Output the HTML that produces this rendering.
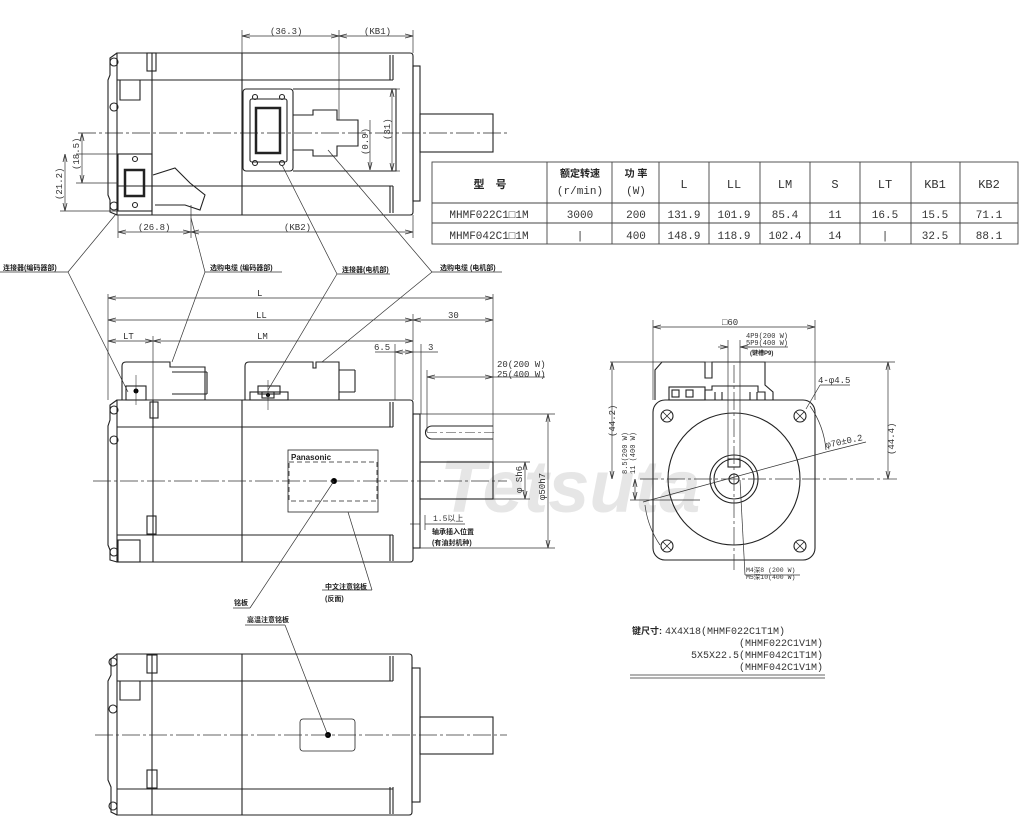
<!DOCTYPE html>
<html><head><meta charset="utf-8"><style>
html,body{margin:0;padding:0;background:#fff;}
svg{display:block;}
text{font-family:"Liberation Mono","Noto Sans CJK SC",monospace;fill:#333;}
.c{font-family:"Liberation Sans","Noto Sans CJK SC",sans-serif;font-weight:bold;fill:#222;}
</style></head><body>
<svg width="1024" height="823" viewBox="0 0 1024 823" xmlns="http://www.w3.org/2000/svg">
<defs>
<marker id="a" markerWidth="8" markerHeight="6" refX="8" refY="3" orient="auto-start-reverse" markerUnits="userSpaceOnUse"><path d="M0,1 L8,3 L0,5" fill="none" stroke="#333" stroke-width="0.8"/></marker>
</defs>
<rect width="1024" height="823" fill="#fff"/>
<text x="440" y="512" style="font-family:'Liberation Sans',sans-serif;font-weight:bold;font-style:italic;font-size:74px;fill:#e6e6e6">Tetsuta</text>

<g fill="none" stroke="#222" stroke-width="1.1">
<path d="M117,53 H410 Q413,53 413,56 V212 Q413,215 410,215 H117 Z"/>
<path d="M117,53 L110,58 V75 L108,80 V195 L110,200 V212 L117,215"/>
<line x1="117" y1="80" x2="393" y2="80"/><line x1="117" y1="186" x2="393" y2="186"/>
<line x1="393" y1="55" x2="393" y2="80"/><line x1="390" y1="55" x2="390" y2="80"/>
<line x1="393" y1="186" x2="393" y2="213"/><line x1="390" y1="186" x2="390" y2="213"/>
<line x1="152" y1="53" x2="152" y2="215"/><line x1="242" y1="53" x2="242" y2="215"/>
<rect x="147" y="53" width="9" height="18"/>
<path d="M120,80 V100 H140 V80"/><circle cx="114" cy="62" r="4"/><circle cx="114" cy="107" r="4"/><circle cx="114" cy="206" r="4"/>
<rect x="413" y="66" width="7" height="135"/>
<rect x="420" y="114" width="73" height="38"/>
<rect x="243" y="89" width="50" height="82" rx="3"/>
<rect x="250" y="99" width="37" height="63" rx="2"/>
<rect x="256" y="108" width="24" height="45" stroke-width="2.5"/>
<path d="M293,115 H313 V110 H337 V120 H358 V146 H337 V156 H313 V150 H293"/>
<path d="M293,89 H396 V171 H293"/>
<circle cx="255" cy="97" r="2.5"/><circle cx="282" cy="97" r="2.5"/><circle cx="255" cy="163" r="2.5"/><circle cx="282" cy="163" r="2.5"/>
<rect x="118" y="154" width="34" height="57"/>
<rect x="125" y="170" width="19" height="26" stroke-width="2.5"/>
<circle cx="135" cy="159" r="2.5"/><circle cx="135" cy="205" r="2.5"/>
<path d="M153,175 L175,168 L190,183 L205,195 L200,210 L185,205 L155,205"/>
<line x1="78" y1="133" x2="507" y2="133" stroke-width="0.7" stroke-dasharray="18,3,3,3"/>
</g>

<g stroke="#333" stroke-width="0.7" fill="none">
<line x1="242" y1="30" x2="242" y2="53"/><line x1="339" y1="30" x2="339" y2="120"/><line x1="413" y1="30" x2="413" y2="53"/>
<line x1="242" y1="36" x2="339" y2="36" marker-start="url(#a)" marker-end="url(#a)"/>
<line x1="339" y1="36" x2="413" y2="36" marker-start="url(#a)" marker-end="url(#a)"/>
<line x1="118" y1="215" x2="118" y2="238"/><line x1="191" y1="205" x2="191" y2="238"/><line x1="413" y1="215" x2="413" y2="238"/>
<line x1="118" y1="232" x2="191" y2="232" marker-start="url(#a)" marker-end="url(#a)"/>
<line x1="191" y1="232" x2="413" y2="232" marker-start="url(#a)" marker-end="url(#a)"/>
<line x1="76" y1="154" x2="118" y2="154"/><line x1="76" y1="183" x2="118" y2="183"/><line x1="60" y1="211" x2="118" y2="211"/>
<line x1="82" y1="133" x2="82" y2="183" marker-start="url(#a)" marker-end="url(#a)"/>
<line x1="65" y1="154" x2="65" y2="211" marker-start="url(#a)" marker-end="url(#a)"/>
<line x1="396" y1="89" x2="400" y2="89"/><line x1="396" y1="171" x2="400" y2="171"/>
<line x1="392" y1="89" x2="392" y2="171" marker-start="url(#a)" marker-end="url(#a)"/>
<line x1="370" y1="120" x2="370" y2="170" marker-end="url(#a)"/>
</g>
<g font-size="9">
<text x="270" y="34">(36.3)</text><text x="364" y="34">(KB1)</text>
<text x="138" y="230">(26.8)</text><text x="284" y="230">(KB2)</text>
<text transform="translate(79,170) rotate(-90)">(18.5)</text>
<text transform="translate(62,200) rotate(-90)">(21.2)</text>
<text transform="translate(390,140) rotate(-90)">(31)</text>
<text transform="translate(368,155) rotate(-90)">(0.9)</text>
</g>

<g stroke="#444" stroke-width="0.9" fill="none">
<rect x="432" y="162" width="586" height="82"/>
<line x1="432" y1="203" x2="1018" y2="203"/><line x1="432" y1="223" x2="1018" y2="223"/>
<line x1="547" y1="162" x2="547" y2="244"/><line x1="612" y1="162" x2="612" y2="244"/><line x1="659" y1="162" x2="659" y2="244"/>
<line x1="709" y1="162" x2="709" y2="244"/><line x1="760" y1="162" x2="760" y2="244"/><line x1="810" y1="162" x2="810" y2="244"/>
<line x1="860" y1="162" x2="860" y2="244"/><line x1="911" y1="162" x2="911" y2="244"/><line x1="960" y1="162" x2="960" y2="244"/>
</g>
<g font-size="12" text-anchor="middle">
<text class="c" x="490" y="188" font-size="11">型　号</text>
<text class="c" x="580" y="177" font-size="10">额定转速</text><text x="580" y="194" font-size="11">(r/min)</text>
<text class="c" x="636" y="177" font-size="10">功 率</text><text x="636" y="194" font-size="11">(W)</text>
<text x="684" y="188">L</text><text x="734" y="188">LL</text><text x="785" y="188">LM</text><text x="835" y="188">S</text>
<text x="885" y="188">LT</text><text x="935" y="188">KB1</text><text x="989" y="188">KB2</text>
<g font-size="11">
<text x="489" y="218">MHMF022C1□1M</text><text x="580" y="218">3000</text><text x="636" y="218">200</text>
<text x="684" y="218">131.9</text><text x="734" y="218">101.9</text><text x="785" y="218">85.4</text><text x="835" y="218">11</text>
<text x="885" y="218">16.5</text><text x="935" y="218">15.5</text><text x="989" y="218">71.1</text>
<text x="489" y="239">MHMF042C1□1M</text><text x="580" y="239">|</text><text x="636" y="239">400</text>
<text x="684" y="239">148.9</text><text x="734" y="239">118.9</text><text x="785" y="239">102.4</text><text x="835" y="239">14</text>
<text x="885" y="239">|</text><text x="935" y="239">32.5</text><text x="989" y="239">88.1</text>
</g></g>

<g stroke="#333" stroke-width="0.7" fill="none">
<line x1="0" y1="272" x2="68" y2="272"/><line x1="68" y1="272" x2="116" y2="214"/><line x1="68" y1="272" x2="128" y2="392"/>
<line x1="205" y1="272" x2="282" y2="272"/><line x1="205" y1="272" x2="191" y2="218"/><line x1="205" y1="272" x2="172" y2="362"/>
<line x1="337" y1="274" x2="390" y2="274"/><line x1="337" y1="274" x2="282" y2="165"/><line x1="337" y1="274" x2="268" y2="390"/>
<line x1="432" y1="272" x2="502" y2="272"/><line x1="432" y1="272" x2="328" y2="150"/><line x1="432" y1="272" x2="322" y2="362"/>
</g>
<g class="c" font-size="7">
<text class="c" x="3" y="270">连接器(编码器部)</text>
<text class="c" x="210" y="270">选购电缆 (编码器部)</text>
<text class="c" x="342" y="272">连接器(电机部)</text>
<text class="c" x="440" y="270">选购电缆 (电机部)</text>
</g>

<g fill="none" stroke="#222" stroke-width="1.1">
<path d="M117,400 H410 Q413,400 413,403 V559 Q413,562 410,562 H117 Z"/>
<path d="M117,400 L110,405 V420 L108,426 V545 L110,550 V560 L117,562"/>
<line x1="117" y1="427" x2="393" y2="427"/><line x1="117" y1="535" x2="393" y2="535"/>
<line x1="393" y1="402" x2="393" y2="427"/><line x1="390" y1="402" x2="390" y2="427"/>
<line x1="393" y1="535" x2="393" y2="561"/><line x1="390" y1="535" x2="390" y2="561"/>
<line x1="153" y1="400" x2="153" y2="562"/><line x1="242" y1="400" x2="242" y2="562"/>
<circle cx="114" cy="410" r="4"/><circle cx="114" cy="440" r="4"/><circle cx="114" cy="552" r="4"/>
<rect x="118" y="540" width="22" height="22"/>
<rect x="150" y="402" width="8" height="16"/><rect x="147" y="516" width="9" height="18"/>
<rect x="413" y="414" width="7" height="134"/>
<rect x="420" y="462" width="73" height="37"/>
<path d="M493,426 H432 A6.5,6.5 0 0 0 432,439 H493"/>
<rect x="288" y="450" width="90" height="62" stroke-width="0.8"/>
<rect x="289" y="462" width="88" height="39" stroke-dasharray="5,3" stroke-width="0.8"/>
<rect x="126" y="386" width="20" height="14"/>
<path d="M122,400 V366 Q122,362 126,362 H170 V367 H205 V400"/>
<path d="M172,372 H207 M172,394 H207"/><path d="M207,372 V394"/>
<path d="M245,400 V366 Q245,362 249,362 H313 V368 H316 V362 H339 V400"/>
<path d="M339,370 H355 M339,392 H355"/><path d="M355,370 V392"/>
<rect x="250" y="392" width="38" height="8"/><rect x="258" y="386" width="22" height="8"/><rect x="262" y="392" width="12" height="6"/>
</g>
<circle cx="136" cy="391" r="2.5" fill="#000"/><circle cx="268" cy="395" r="2" fill="#000"/>
<circle cx="334" cy="481" r="3" fill="#000"/>
<text x="291" y="460" style="font-family:'Liberation Sans',sans-serif;font-weight:bold;font-size:8px;fill:#222">Panasonic</text>
<line x1="93" y1="481" x2="507" y2="481" stroke="#333" stroke-width="0.7" stroke-dasharray="18,3,3,3"/>
<line x1="427" y1="432.5" x2="497" y2="432.5" stroke="#333" stroke-width="0.6" stroke-dasharray="10,3,3,3"/>
<line x1="136" y1="375" x2="136" y2="405" stroke="#333" stroke-width="0.6"/>
<line x1="268" y1="380" x2="268" y2="410" stroke="#333" stroke-width="0.6"/>

<g stroke="#333" stroke-width="0.7" fill="none">
<line x1="108" y1="294" x2="108" y2="400"/><line x1="493" y1="294" x2="493" y2="462"/><line x1="413" y1="314" x2="413" y2="400"/>
<line x1="153" y1="336" x2="153" y2="400"/><line x1="395" y1="344" x2="395" y2="400"/><line x1="421" y1="344" x2="421" y2="414"/>
<line x1="108" y1="298" x2="493" y2="298" marker-start="url(#a)" marker-end="url(#a)"/>
<line x1="108" y1="320" x2="413" y2="320" marker-start="url(#a)" marker-end="url(#a)"/>
<line x1="413" y1="320" x2="493" y2="320" marker-start="url(#a)" marker-end="url(#a)"/>
<line x1="108" y1="341" x2="153" y2="341" marker-start="url(#a)" marker-end="url(#a)"/>
<line x1="153" y1="341" x2="413" y2="341" marker-start="url(#a)" marker-end="url(#a)"/>
<line x1="375" y1="352" x2="395" y2="352"/><line x1="395" y1="352" x2="413" y2="352" marker-start="url(#a)" marker-end="url(#a)"/>
<line x1="413" y1="352" x2="421" y2="352"/><line x1="421" y1="352" x2="438" y2="352"/>
<line x1="427" y1="370" x2="427" y2="432"/>
<line x1="427" y1="377" x2="493" y2="377" marker-start="url(#a)" marker-end="url(#a)"/>
<line x1="493" y1="377" x2="545" y2="377"/>
<line x1="420" y1="414" x2="555" y2="414"/><line x1="420" y1="548" x2="555" y2="548"/>
<line x1="548" y1="414" x2="548" y2="548" marker-start="url(#a)" marker-end="url(#a)"/>
<line x1="493" y1="462" x2="530" y2="462"/><line x1="493" y1="499" x2="530" y2="499"/>
<line x1="525" y1="462" x2="525" y2="499" marker-start="url(#a)" marker-end="url(#a)"/>
<line x1="410" y1="524" x2="420" y2="524"/><line x1="425" y1="524" x2="465" y2="524"/>
<line x1="420" y1="515" x2="420" y2="530"/><line x1="425" y1="515" x2="425" y2="530"/>
<line x1="233" y1="608" x2="250" y2="608"/><line x1="250" y1="608" x2="334" y2="481"/>
<line x1="322" y1="590" x2="372" y2="590"/><line x1="372" y1="590" x2="348" y2="512"/>
<line x1="245" y1="625" x2="285" y2="625"/><line x1="285" y1="625" x2="327" y2="733"/>
</g>
<g font-size="9">
<text x="257" y="296">L</text><text x="256" y="318">LL</text><text x="448" y="318">30</text>
<text x="123" y="339">LT</text><text x="257" y="339">LM</text>
<text x="374" y="350">6.5</text><text x="428" y="350">3</text>
<text x="497" y="367">20(200 W)</text><text x="497" y="377">25(400 W)</text>
<text transform="translate(545,500) rotate(-90)">φ50h7</text>
<text transform="translate(522,493) rotate(-90)">φ Sh6</text>
<text x="433" y="521" font-size="8">1.5以上</text>
</g>
<g font-size="7">
<text class="c" x="432" y="534">轴承插入位置</text><text class="c" x="432" y="545">(有油封机种)</text>
<text class="c" x="234" y="605">铭板</text>
<text class="c" x="325" y="589">中文注意铭板</text><text class="c" x="325" y="601">(反面)</text>
<text class="c" x="247" y="622">高温注意铭板</text>
</g>

<g fill="none" stroke="#222" stroke-width="1.1">
<path d="M117,654 H409 Q412,654 412,657 V812 Q412,815 409,815 H117 Z"/>
<path d="M117,654 L111,659 V675 L108,681 V780 L111,787 V812 L117,815"/>
<line x1="117" y1="681" x2="393" y2="681"/><line x1="117" y1="789" x2="393" y2="789"/>
<line x1="393" y1="656" x2="393" y2="681"/><line x1="390" y1="656" x2="390" y2="681"/>
<line x1="393" y1="787" x2="393" y2="814"/><line x1="390" y1="787" x2="390" y2="814"/>
<line x1="152" y1="654" x2="152" y2="815"/><line x1="242" y1="654" x2="242" y2="815"/>
<rect x="147" y="655" width="10" height="18"/><rect x="147" y="770" width="10" height="18"/>
<path d="M120,681 V700 H140 V681"/>
<circle cx="113" cy="662" r="4"/><circle cx="113" cy="709" r="4"/><circle cx="113" cy="806" r="4"/>
<rect x="412" y="668" width="8" height="134"/>
<rect x="420" y="717" width="73" height="37"/>
<rect x="300" y="719" width="55" height="32" rx="3" stroke-width="0.8"/>
</g>
<circle cx="328" cy="735" r="3" fill="#000"/>
<line x1="95" y1="735" x2="507" y2="735" stroke="#333" stroke-width="0.7" stroke-dasharray="18,3,3,3"/>

<g fill="none" stroke="#222" stroke-width="1.1">
<rect x="653" y="400" width="162" height="160" rx="12"/>
<circle cx="734" cy="479" r="66"/>
<circle cx="734" cy="479" r="24"/><circle cx="734" cy="479" r="20"/><circle cx="734" cy="479" r="5"/>
<rect x="728" y="459" width="12" height="8"/>
<circle cx="667" cy="416" r="6"/><circle cx="800" cy="416" r="6"/><circle cx="667" cy="546" r="6"/><circle cx="800" cy="546" r="6"/>
<path d="M663,412 l8,8 m0,-8 l-8,8 M796,412 l8,8 m0,-8 l-8,8 M663,542 l8,8 m0,-8 l-8,8 M796,542 l8,8 m0,-8 l-8,8" stroke-width="0.8"/>
<path d="M655,400 V370 L662,362 H705 V378 H712 V362 H765 V385 L773,392 V400"/>
<rect x="669" y="387" width="36" height="13"/><rect x="672" y="390" width="7" height="7"/><rect x="686" y="390" width="7" height="7"/>
<path d="M705,400 V390 H712 V386 H758 V392 H765 V400"/>
<line x1="715" y1="392" x2="715" y2="400"/><line x1="722" y1="392" x2="722" y2="400"/><line x1="750" y1="392" x2="750" y2="400"/><line x1="757" y1="392" x2="757" y2="400"/>
</g>
<g stroke="#333" stroke-width="0.7" fill="none">
<line x1="728" y1="340" x2="728" y2="460"/><line x1="740" y1="340" x2="740" y2="460"/>
<line x1="734" y1="365" x2="734" y2="570" stroke-dasharray="18,3,3,3"/>
<line x1="640" y1="479" x2="897" y2="479" stroke-dasharray="18,3,3,3"/>
<line x1="653" y1="320" x2="653" y2="400"/><line x1="815" y1="320" x2="815" y2="400"/>
<line x1="653" y1="327" x2="815" y2="327" marker-start="url(#a)" marker-end="url(#a)"/>
<line x1="718" y1="347" x2="728" y2="347" marker-end="url(#a)"/><line x1="750" y1="347" x2="740" y2="347" marker-end="url(#a)"/>
<line x1="740" y1="347" x2="788" y2="347"/>
<line x1="610" y1="362" x2="895" y2="362"/>
<line x1="612" y1="362" x2="612" y2="479" marker-start="url(#a)" marker-end="url(#a)"/>
<line x1="888" y1="362" x2="888" y2="479" marker-start="url(#a)" marker-end="url(#a)"/>
<line x1="630" y1="500" x2="700" y2="500"/>
<line x1="635" y1="479" x2="635" y2="500" marker-start="url(#a)" marker-end="url(#a)"/>
<line x1="806" y1="409" x2="820" y2="385"/><line x1="820" y1="385" x2="850" y2="385"/>
<line x1="643" y1="502" x2="826" y2="452"/><line x1="826" y1="452" x2="866" y2="442"/>
<path d="M810,406 A90,90 0 0 1 826,450" />
<path d="M645,505 A90,90 0 0 0 660,545" />
<line x1="740" y1="480" x2="745" y2="575"/><line x1="745" y1="575" x2="800" y2="575"/>
<line x1="630" y1="675" x2="825" y2="675"/><line x1="630" y1="678" x2="825" y2="678"/>
</g>
<g font-size="9">
<text x="722" y="325">□60</text>
<text x="746" y="338" font-size="7">4P9(200 W)</text><text x="746" y="345" font-size="7">5P9(400 W)</text>
<text class="c" x="750" y="355" font-size="6">(键槽P9)</text>
<text x="818" y="383">4-φ4.5</text>
<text x="826" y="448" transform="rotate(-12,826,448)">φ70±0.2</text>
<text transform="translate(615,437) rotate(-90)">(44.2)</text>
<text transform="translate(894,455) rotate(-90)">(44.4)</text>
<text transform="translate(627,474) rotate(-90)" font-size="7">8.5(200 W)</text>
<text transform="translate(635,474) rotate(-90)" font-size="7">11 (400 W)</text>
<text x="746" y="572" font-size="6.5">M4深8 (200 W)</text><text x="746" y="579" font-size="6.5">M5深10(400 W)</text>
</g>
<g font-size="10">
<text class="c" x="632" y="634" font-size="9">键尺寸:</text>
<text x="665" y="634">4X4X18(MHMF022C1T1M)</text>
<text x="823" y="646" text-anchor="end">(MHMF022C1V1M)</text>
<text x="823" y="658" text-anchor="end">5X5X22.5(MHMF042C1T1M)</text>
<text x="823" y="670" text-anchor="end">(MHMF042C1V1M)</text>
</g>
</svg>
</body></html>
